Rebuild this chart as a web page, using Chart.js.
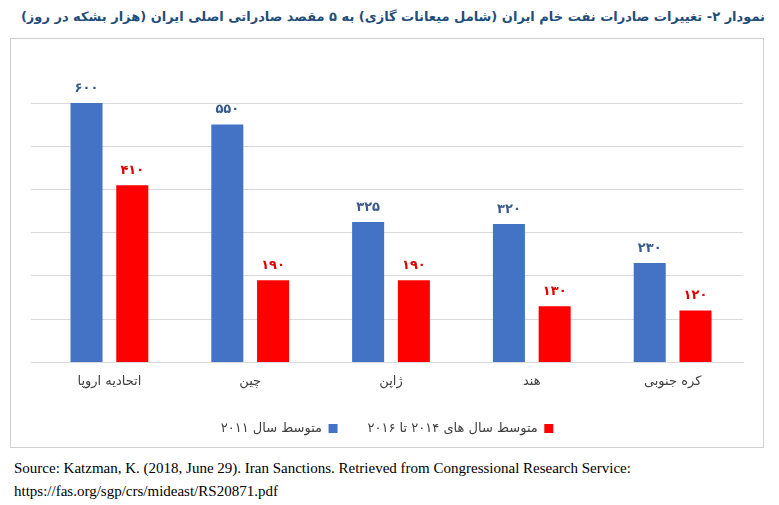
<!DOCTYPE html>
<html>
<head>
<meta charset="utf-8">
<script src="https://cdn.jsdelivr.net/npm/chart.js@4"></script>
<style>
  body { margin: 0; background: #fff; width: 779px; height: 505px; position: relative; }
  #title { position: absolute; right: 14px; top: 9px; direction: rtl; white-space: nowrap; font: bold 13px "DejaVu Sans", sans-serif; color: #1f4e79; }
  #box { position: absolute; left: 10px; top: 38px; width: 754px; height: 410px; border: 1px solid #d0d0d0; box-sizing: border-box; }
  #source { position: absolute; left: 14px; top: 457px; font: 15px "Liberation Serif", serif; color: #000; line-height: 23px; }
</style>
</head>
<body>
<div id="title">نمودار ۲- تغییرات صادرات نفت خام ایران (شامل میعانات گازی) به ۵ مقصد صادراتی اصلی ایران (هزار بشکه در روز)</div>
<div id="box"><canvas id="oilChart"></canvas></div>
<div id="source">Source: Katzman, K. (2018, June 29). Iran Sanctions. Retrieved from Congressional Research Service:<br>https://fas.org/sgp/crs/mideast/RS20871.pdf</div>
<script>
// Data
const categories = ['اتحادیه اروپا', 'چین', 'ژاپن', 'هند', 'کره جنوبی'];
const avg2011 = [600, 550, 325, 320, 230];
const avg2014to2016 = [410, 190, 190, 130, 120];

function toPersian(n) {
    return String(n).replace(/\d/g, d => '۰۱۲۳۴۵۶۷۸۹'[d]);
}

// Draw value labels above each bar
const valueLabels = {
    id: 'valueLabels',
    afterDatasetsDraw(chart) {
        const ctx = chart.ctx;
        ctx.save();
        ctx.font = 'bold 13px "DejaVu Sans", sans-serif';
        ctx.textAlign = 'center';
        ctx.textBaseline = 'bottom';
        chart.data.datasets.forEach(function(ds, i) {
            ctx.fillStyle = ds.labelColor;
            chart.getDatasetMeta(i).data.forEach(function(bar, j) {
                ctx.fillText(toPersian(ds.data[j]), bar.x, bar.y - 8);
            });
        });
        ctx.restore();
    }
};

const canvas = document.getElementById('oilChart');
canvas.width = 752; canvas.height = 408;
new Chart(canvas, {
    type: 'bar',
    data: {
        labels: categories,
        datasets: [{
            label: 'متوسط سال ۲۰۱۱',
            data: avg2011,
            backgroundColor: '#4472c4',
            labelColor: '#3a5a8c'
        }, {
            label: 'متوسط سال های ۲۰۱۴ تا ۲۰۱۶',
            data: avg2014to2016,
            backgroundColor: '#ff0000',
            labelColor: '#e00000'
        }]
    },
    options: {
        responsive: false,
        animation: false,
        layout: { padding: { left: 20, right: 20, top: 64, bottom: 2 } },
        datasets: { bar: { barPercentage: 0.7, categoryPercentage: 0.65 } },
        plugins: {
            legend: {
                position: 'bottom',
                rtl: true,
                reverse: true,
                labels: {
                    boxWidth: 9, boxHeight: 9, padding: 30,
                    color: '#404040',
                    font: { size: 13, family: '"DejaVu Sans", sans-serif' }
                }
            },
            tooltip: { enabled: false }
        },
        scales: {
            x: {
                grid: { display: false },
                border: { color: '#d9d9d9' },
                ticks: { color: '#404040', font: { size: 13, family: '"DejaVu Sans", sans-serif' } }
            },
            y: {
                min: 0, max: 600,
                ticks: { stepSize: 100, display: false },
                grid: { color: '#d9d9d9' },
                border: { display: false }
            }
        }
    },
    plugins: [valueLabels]
});
</script>
</body>
</html>
